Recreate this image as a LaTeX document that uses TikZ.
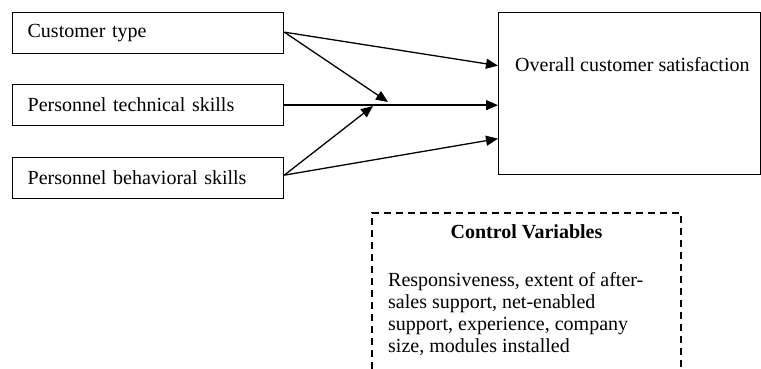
\documentclass[tikz,border=0pt]{standalone}
\usepackage{fontspec}
\setmainfont{Liberation Serif}
\usetikzlibrary{arrows.meta}

\begin{document}
\begin{tikzpicture}[x=1pt, y=-1pt, font=\fontsize{20}{22}\selectfont,
        varbox/.style={draw, line width=1.3pt, minimum width=271pt, minimum height=41pt,
            text width=241pt, inner xsep=15pt, align=left, anchor=north west},
        link/.style={line width=1.3pt, -{Triangle[length=12pt, width=10pt]}}]
        \useasboundingbox (0,0) rectangle (761,369);
        \node[varbox] (ctype) at (12,12) {Customer type};
        \node[varbox] (tech) at (12,84) {Personnel technical skills};
        \node[varbox] (behav) at (12,157) {Personnel behavioral skills};
        \node[draw, line width=1.3pt, minimum width=262pt, minimum height=162pt, anchor=north west] (sat) at (498,12) {};
        \node[anchor=west, inner sep=0pt] (satlabel) at ([xshift=17pt, yshift=-53pt]sat.north west) {Overall customer satisfaction};
        %%%
        \coordinate (meet1) at (388,102);
        \coordinate (meet2) at (373,106);
        \draw[link] ([yshift=1pt]ctype.east) -- ([yshift=28pt]sat.west);
        \draw[link] ([yshift=1pt]ctype.east) -- (meet1);
        \draw[link] (tech.east) -- (tech.east -| sat.west);
        \draw[link] ([yshift=3pt]behav.east) -- (meet2);
        \draw[link] ([yshift=3pt]behav.east) -- ([yshift=-45pt]sat.west);
        %%%
        \draw[line width=1.3pt, dash pattern=on 7pt off 5pt] (372,369) -- (372,213) -- (681,213) -- (681,369);
        \node[font=\fontsize{20}{22}\selectfont\bfseries] (ctrltitle) at (526.5,232) {Control Variables};
        \node[anchor=north west, align=left, inner sep=0pt] (ctrlvars) at (388,272)
            {Responsiveness, extent of after-\\ sales support, net-enabled\\ support, experience, company\\ size, modules installed};
\end{tikzpicture}
\end{document}
